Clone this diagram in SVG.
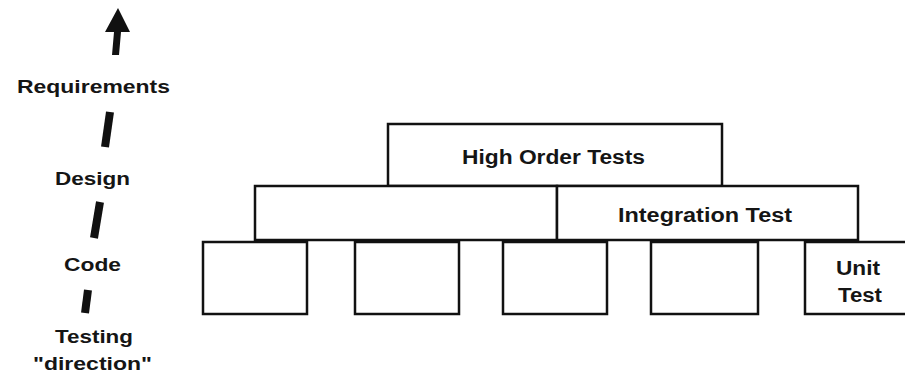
<svg xmlns="http://www.w3.org/2000/svg" width="905" height="377" viewBox="0 0 905 377">
<style>
.box{fill:#fff;stroke:#111;stroke-width:2.5}
.t{font-family:"Liberation Sans",Arial,sans-serif;font-weight:bold;font-size:18px;fill:#151515}
.b{font-size:20px}
.dash{stroke:#111;stroke-width:8;stroke-linecap:butt}
</style>
<rect width="905" height="377" fill="#fff"/>
<g id="high-order">
<rect class="box" x="388" y="124" width="334" height="62"/>
<text class="t b" x="462" y="164" textLength="183" lengthAdjust="spacingAndGlyphs">High Order Tests</text>
</g>
<g id="integration">
<rect class="box" x="255" y="186" width="302" height="54"/>
<rect class="box" x="557" y="186" width="301" height="54"/>
<text class="t b" x="618" y="222" textLength="174" lengthAdjust="spacingAndGlyphs">Integration Test</text>
</g>
<g id="unit1"><rect class="box" x="203" y="242" width="104" height="72"/></g>
<g id="unit2"><rect class="box" x="355" y="242" width="104" height="72"/></g>
<g id="unit3"><rect class="box" x="503" y="242" width="104" height="72"/></g>
<g id="unit4"><rect class="box" x="651" y="242" width="107" height="72"/></g>
<g id="unit5">
<rect class="box" x="805" y="242" width="110" height="72"/>
<text class="t b" x="836" y="275" textLength="44" lengthAdjust="spacingAndGlyphs">Unit</text>
<text class="t b" x="838" y="302" textLength="44" lengthAdjust="spacingAndGlyphs">Test</text>
</g>
<g id="labels">
<text class="t" x="17" y="93" textLength="153" lengthAdjust="spacingAndGlyphs">Requirements</text>
<text class="t" x="55" y="185" textLength="75" lengthAdjust="spacingAndGlyphs">Design</text>
<text class="t" x="64" y="271" textLength="57" lengthAdjust="spacingAndGlyphs">Code</text>
<text class="t" x="55" y="343" textLength="78" lengthAdjust="spacingAndGlyphs">Testing</text>
<text class="t" x="33" y="370" textLength="119" lengthAdjust="spacingAndGlyphs">"direction"</text>
</g>
<g id="connectors">
<polygon points="118,8 130,32 121,32 119,55 112,55 114,32 105,32" fill="#111"/>
<line class="dash" x1="110" y1="112" x2="105" y2="147"/>
<line class="dash" x1="100" y1="202" x2="94" y2="238"/>
<line class="dash" x1="88" y1="290" x2="85" y2="313"/>
</g>
</svg>
